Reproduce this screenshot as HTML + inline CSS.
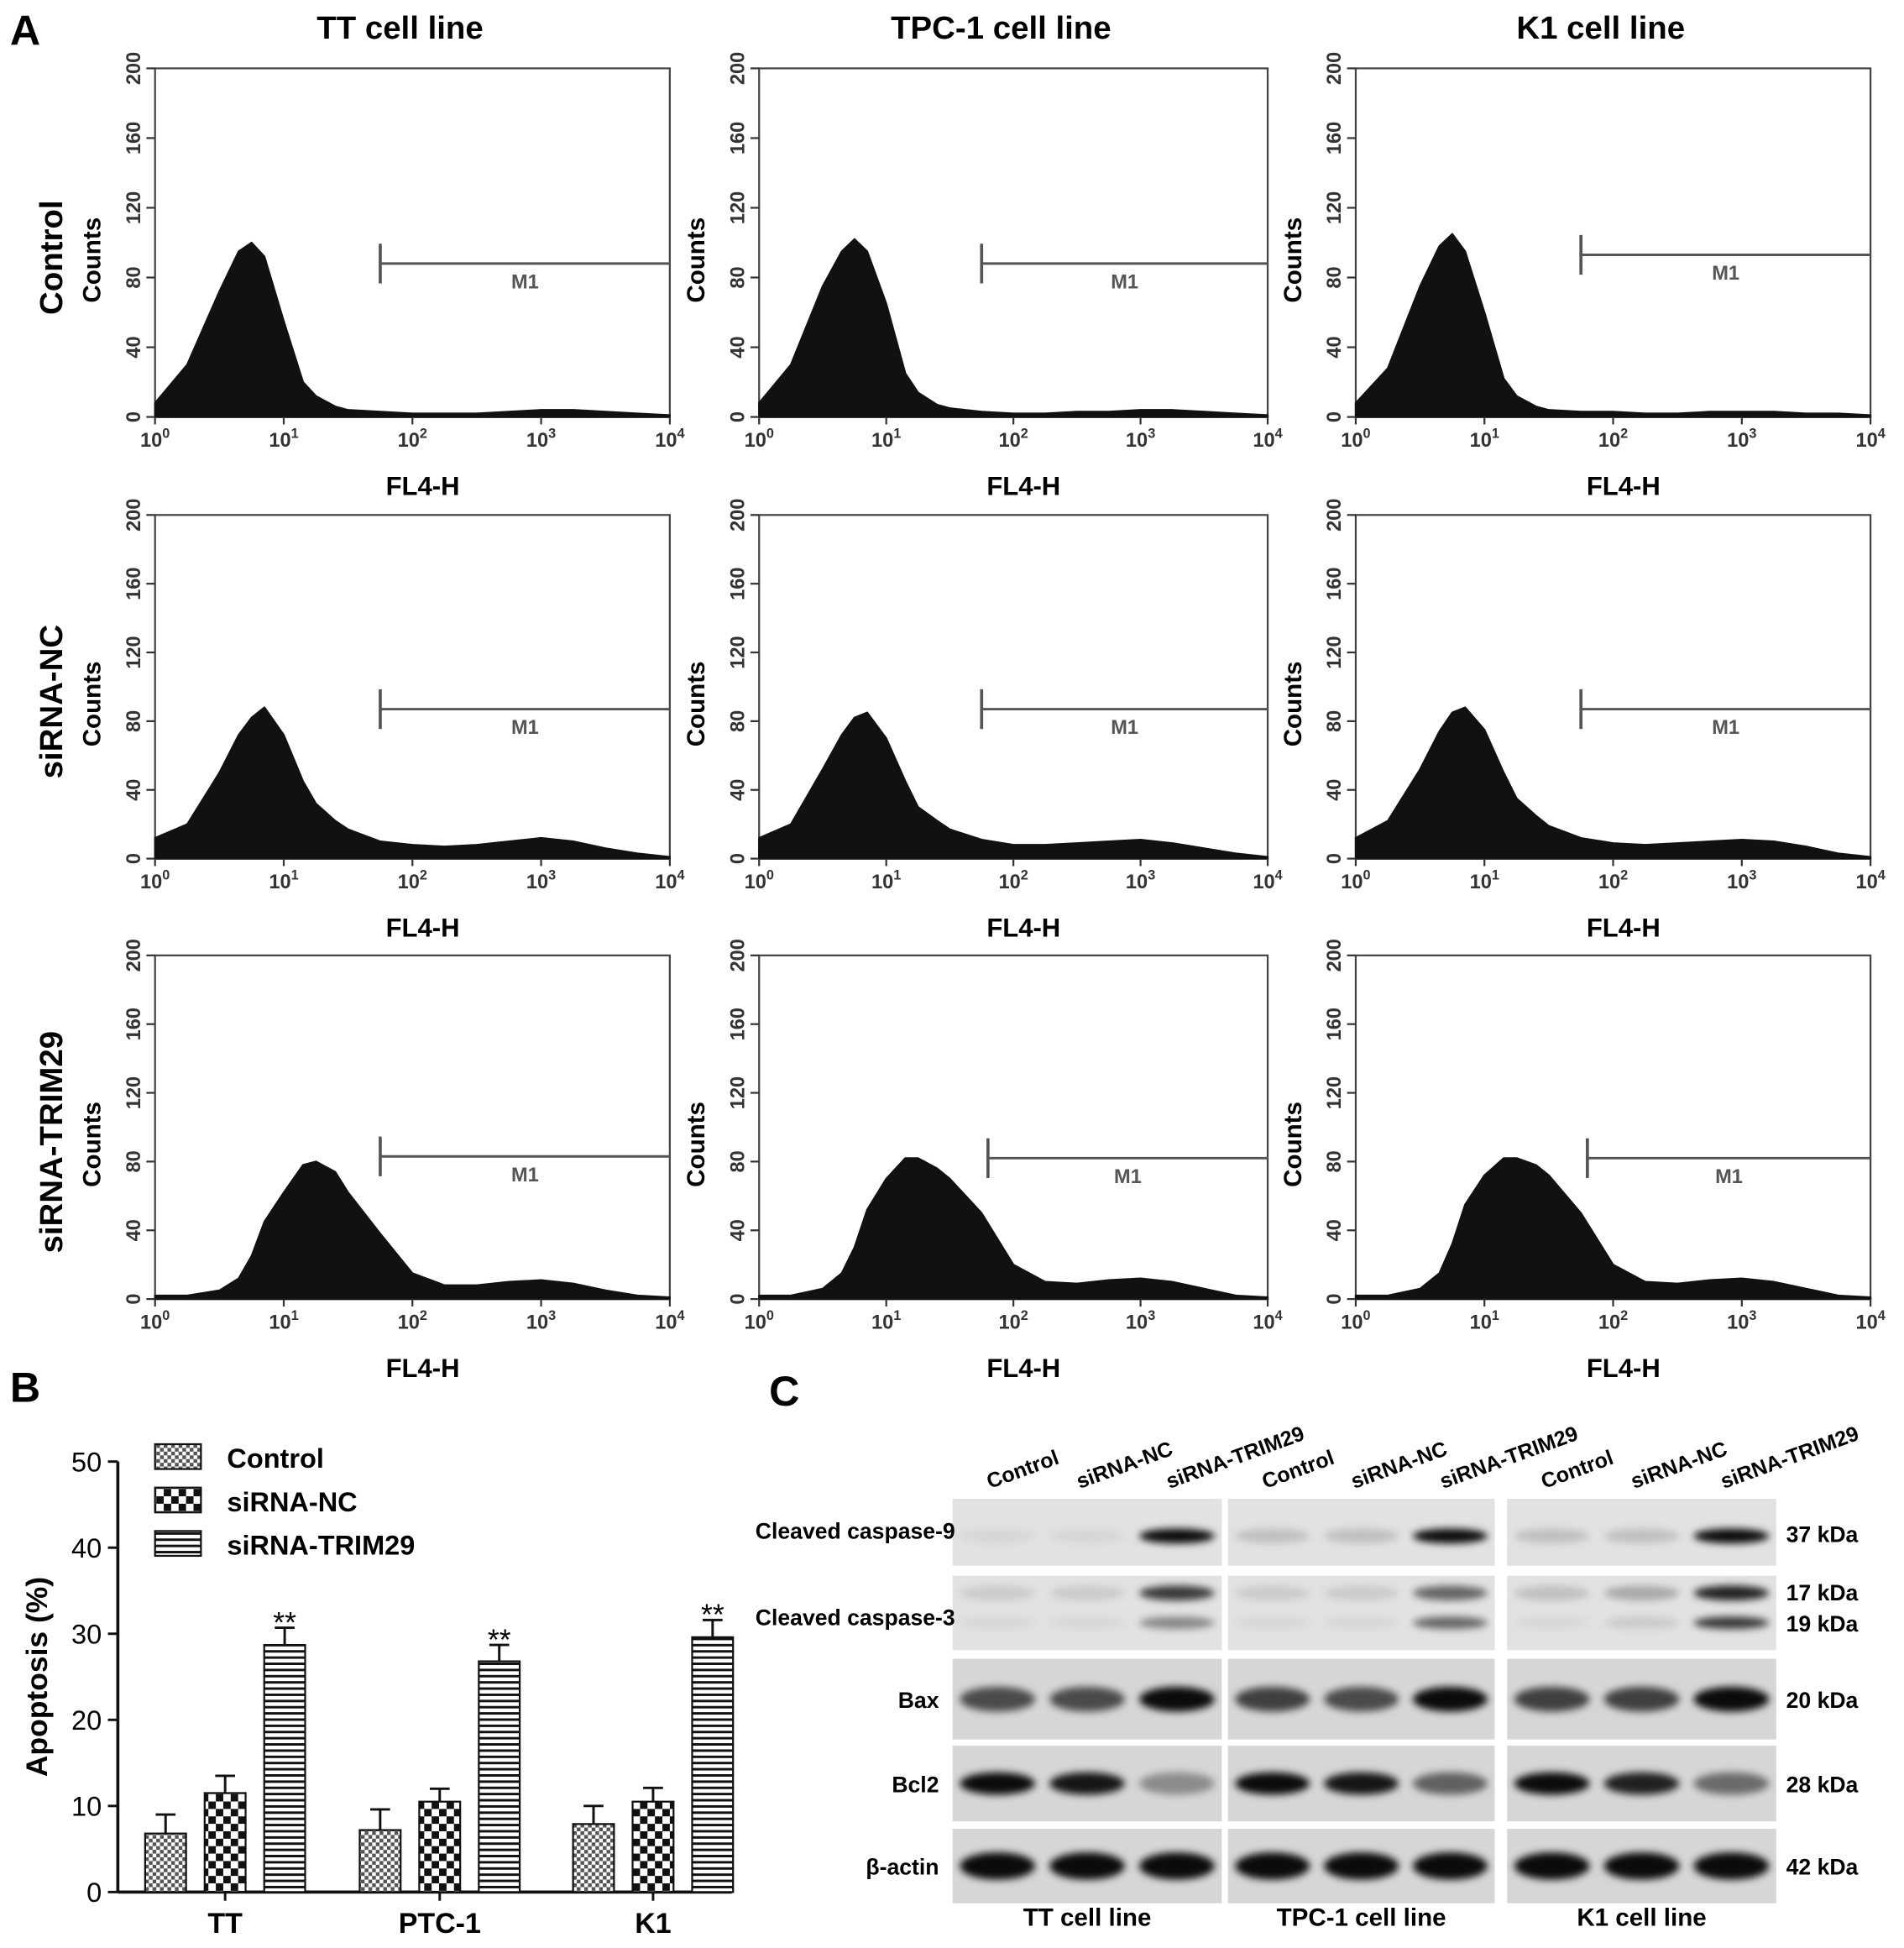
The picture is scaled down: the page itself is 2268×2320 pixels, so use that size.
<!DOCTYPE html>
<html><head><meta charset="utf-8"><style>
html,body{margin:0;padding:0;background:#fff}
svg{display:block;font-family:"Liberation Sans",sans-serif}
</style></head><body>
<svg id="fig" width="2268" height="2320" viewBox="0 0 1535 1570" xmlns="http://www.w3.org/2000/svg">
<defs>
<filter id="blur" x="-20%" y="-100%" width="140%" height="300%"><feGaussianBlur stdDeviation="3"/></filter>
<pattern id="pCtrl" width="6" height="6" patternUnits="userSpaceOnUse"><rect width="6" height="6" fill="#fff"/><rect width="3" height="3" fill="#555"/><rect x="3" y="3" width="3" height="3" fill="#555"/></pattern>
<pattern id="pNC" width="12" height="12" patternUnits="userSpaceOnUse"><rect width="12" height="12" fill="#fff"/><rect width="6" height="6" fill="#111"/><rect x="6" y="6" width="6" height="6" fill="#111"/></pattern>
<pattern id="pTR" width="6" height="5" patternUnits="userSpaceOnUse"><rect width="6" height="5" fill="#fff"/><rect y="0" width="6" height="2" fill="#111"/></pattern>
</defs>
<g id="hists"></g>
<g id="bars"></g>
<g id="blots"></g>
</svg>
<script>
const NS="http://www.w3.org/2000/svg";
function mk(p,tag,at,txt){const e=document.createElementNS(NS,tag);for(const k in at)e.setAttribute(k,at[k]);if(txt!==undefined)e.textContent=txt;p.appendChild(e);return e;}
const fig=document.getElementById('fig');

const colTitles=["TT cell line","TPC-1 cell line","K1 cell line"];
const rowTitles=["Control","siRNA-NC","siRNA-TRIM29"];
const yTicks=[0,40,80,120,160,200];
const xExp=[0,1,2,3,4];
const binLogs=[0,0.25,0.5,0.65,0.75,0.85,1.0,1.15,1.25,1.4,1.5,1.75,2.0,2.25,2.5,2.75,3.0,3.25,3.5,3.75,4.0];
const histTT_C=[8,30,72,95,100,92,55,20,12,6,4,3,2,2,2,3,4,4,3,2,1];
const histTPC_C=[8,30,75,95,102,95,65,25,14,7,5,3,2,2,3,3,4,4,3,2,1];
const histK1_C=[8,28,75,98,105,95,60,22,12,6,4,3,3,2,2,3,3,3,2,2,1];
const histTT_N=[12,20,50,72,82,88,72,45,32,22,17,10,8,7,8,10,12,10,6,3,1];
const histTPC_N=[12,20,52,72,82,85,70,45,30,22,17,11,8,8,9,10,11,9,6,3,1];
const histK1_N=[12,22,52,74,85,88,75,50,35,25,19,12,9,8,9,10,11,10,7,3,1];
const histTT_T=[2,2,5,12,25,45,62,78,80,74,62,38,15,8,8,10,11,9,5,2,1];
const histTPC_T=[2,2,6,15,30,52,70,82,82,76,70,50,20,10,9,11,12,10,6,2,1];
const histK1_T=[2,2,6,15,32,55,72,82,82,78,72,50,20,10,9,11,12,10,6,2,1];
const hists=[[histTT_C,histTPC_C,histK1_C],[histTT_N,histTPC_N,histK1_N],[histTT_T,histTPC_T,histK1_T]];
const m1Log=[[1.75,1.75,1.75],[1.75,1.75,1.75],[1.75,1.8,1.8]];
const m1Count=[[88,88,93],[87,87,87],[83,82,82]];

const cols=[[125,540],[612,1022],[1093,1508]];
const rows=[[55,336],[415,692],[770,1047]];
const hg=document.getElementById('hists');
mk(hg,'text',{x:8,y:36,'font-size':34,'font-weight':'bold',},'A');
colTitles.forEach((t,c)=>{const e=mk(hg,'text',{x:(cols[c][0]+cols[c][1])/2-10,y:31,'font-size':26,'font-weight':'bold','text-anchor':'middle'},t);

});
rowTitles.forEach((t,r)=>{const cy=(rows[r][0]+rows[r][1])/2+12;const e=mk(hg,'text',{x:0,y:0,'font-size':26,'font-weight':'bold','text-anchor':'middle',transform:`translate(50,${cy}) rotate(-90)`},t);

});
for(let r=0;r<3;r++)for(let c=0;c<3;c++){
 const [x0,x1]=cols[c],[y0,y1]=rows[r];
 const g=mk(hg,'g',{});
 
 
 const sx=v=>x0+(x1-x0)*v/4, sy=v=>y1-(y1-y0)*v/200;
 mk(g,'rect',{x:x0,y:y0,width:x1-x0,height:y1-y0,fill:'#fff',stroke:'#444','stroke-width':1.5});
 const h=hists[r][c];let d=`M${sx(binLogs[0])},${y1}`;
 binLogs.forEach((l,i)=>{d+=` L${sx(l)},${sy(h[i])}`;});
 d+=` L${sx(4)},${y1} Z`;
 const p=mk(g,'path',{d,fill:'#111',stroke:'#111','stroke-width':1.5,'stroke-linejoin':'round'});
 
 
 yTicks.forEach(v=>{mk(g,'line',{x1:x0-7,x2:x0,y1:sy(v),y2:sy(v),stroke:'#333','stroke-width':1.5});
  mk(g,'text',{x:0,y:0,'font-size':16,'font-weight':'bold','text-anchor':'middle',transform:`translate(${x0-12},${sy(v)}) rotate(-90)`,fill:'#333'},v);});
 xExp.forEach(v=>{mk(g,'line',{x1:sx(v),x2:sx(v),y1:y1,y2:y1+6,stroke:'#333','stroke-width':1.5});
  const t=mk(g,'text',{x:sx(v),y:y1+24,'font-size':16,'font-weight':'bold','text-anchor':'middle',fill:'#333'},'10');
  mk(t,'tspan',{dy:-7,'font-size':11},v);});
 const cl=mk(g,'text',{x:0,y:0,'font-size':20,'font-weight':'bold','text-anchor':'middle',transform:`translate(${x0-44},${y0+(y1-y0)*0.55}) rotate(-90)`},'Counts');
 
 
 const xl=mk(g,'text',{x:x0+(x1-x0)*0.52,y:y1+63,'font-size':21,'font-weight':'bold','text-anchor':'middle'},'FL4-H');
 
 
 const mx=sx(m1Log[r][c]),my=sy(m1Count[r][c]);
 mk(g,'line',{x1:mx,x2:mx,y1:my-16,y2:my+16,stroke:'#555','stroke-width':2.5});
 mk(g,'line',{x1:mx,x2:x1,y1:my,y2:my,stroke:'#555','stroke-width':2});
 const m=mk(g,'text',{x:(mx+x1)/2,y:my+20,'font-size':16,'font-weight':'bold','text-anchor':'middle',fill:'#555'},'M1');
 
 
}

const groups=["TT","PTC-1","K1"];
const seriesNames=["Control","siRNA-NC","siRNA-TRIM29"];
const ctrlVals=[6.8,7.2,7.9];
const ncVals=[11.5,10.5,10.5];
const trVals=[28.7,26.8,29.6];
const ctrlErr=[2.2,2.4,2.1];
const ncErr=[2.0,1.5,1.6];
const trErr=[2.0,1.9,2.0];
const bTicks=[0,10,20,30,40,50];
const bg=document.getElementById('bars');
const bx0=95,bx1=590,by0=1525,by1=1178;
const byS=v=>by0-(by0-by1)*v/50;
mk(bg,'text',{x:8,y:1130,'font-size':34,'font-weight':'bold'},'B');
mk(bg,'line',{x1:bx0,x2:bx0,y1:by1,y2:by0,stroke:'#111','stroke-width':2.5});
mk(bg,'line',{x1:bx0,x2:bx1,y1:by0,y2:by0,stroke:'#111','stroke-width':2.5});
bTicks.forEach(v=>{mk(bg,'line',{x1:bx0-8,x2:bx0,y1:byS(v),y2:byS(v),stroke:'#111','stroke-width':2});
 mk(bg,'text',{x:bx0-13,y:byS(v)+8,'font-size':22,'text-anchor':'end'},v);});
const yt=mk(bg,'text',{x:0,y:0,'font-size':24,'font-weight':'bold','text-anchor':'middle',transform:`translate(38,${(by0+by1)/2}) rotate(-90)`},'Apoptosis (%)');


const fills=['url(#pCtrl)','url(#pNC)','url(#pTR)'];
const vals=[ctrlVals,ncVals,trVals],errs=[ctrlErr,ncErr,trErr];
const groupStart=[117,290,462],bw=33,gap=15;
groups.forEach((gname,gi)=>{
 for(let s=0;s<3;s++){const x=groupStart[gi]+s*(bw+gap);const v=vals[s][gi],e=errs[s][gi];
  const rc=mk(bg,'rect',{x,y:byS(v),width:bw,height:byS(0)-byS(v),fill:fills[s],stroke:'#111','stroke-width':1.5});
  
  
  const cx=x+bw/2;
  mk(bg,'line',{x1:cx,x2:cx,y1:byS(v),y2:byS(v+e),stroke:'#111','stroke-width':2});
  mk(bg,'line',{x1:cx-8,x2:cx+8,y1:byS(v+e),y2:byS(v+e),stroke:'#111','stroke-width':2});
  if(s===2)mk(bg,'text',{x:cx,y:byS(v+e)+4,'font-size':24,'text-anchor':'middle'},'**');
 }
 mk(bg,'line',{x1:groupStart[gi]+bw*1.5+gap,x2:groupStart[gi]+bw*1.5+gap,y1:by0,y2:by0+7,stroke:'#111','stroke-width':2});
 const gl=mk(bg,'text',{x:groupStart[gi]+bw*1.5+gap,y:1558,'font-size':23,'font-weight':'bold','text-anchor':'middle'},gname);
 
 
});
seriesNames.forEach((n,s)=>{const y=1164+s*35;
 const r=mk(bg,'rect',{x:125,y:y,width:37,height:20,fill:fills[s],stroke:'#111','stroke-width':1.5});
 
 
 const t=mk(bg,'text',{x:183,y:y+19,'font-size':22,'font-weight':'bold'},n);
 
 });

const lanes=["Control","siRNA-NC","siRNA-TRIM29"];
const proteins=["Cleaved caspase-9","Cleaved caspase-3","Bax","Bcl2","β-actin"];
const kda=[["37 kDa"],["17 kDa","19 kDa"],["20 kDa"],["28 kDa"],["42 kDa"]];
const casp9=[[0.05,0.05,0.95],[0.15,0.15,0.95],[0.15,0.15,0.95]];
const casp3a=[[0.1,0.1,0.75],[0.1,0.1,0.55],[0.15,0.25,0.85]];
const casp3b=[[0.05,0.05,0.4],[0.05,0.05,0.55],[0.05,0.1,0.75]];
const bax=[[0.65,0.65,0.95],[0.7,0.65,0.95],[0.7,0.7,0.95]];
const bcl2=[[0.95,0.9,0.35],[0.95,0.9,0.55],[0.95,0.85,0.5]];
const actin=[[0.95,0.95,0.95],[0.95,0.95,0.95],[0.95,0.95,0.95]];
const cg=document.getElementById('blots');
mk(cg,'text',{x:620,y:1133,'font-size':34,'font-weight':'bold'},'C');
const blotCols=[[768,985],[990,1205],[1215,1432]];
const blotRows=[[1208,1262],[1270,1330],[1337,1402],[1407,1468],[1474,1534]];
const cellNames=["TT cell line","TPC-1 cell line","K1 cell line"];
blotCols.forEach(([a,b],ci)=>{
 const lw=(b-a)/3;
 lanes.forEach((l,li)=>{const t=mk(cg,'text',{x:0,y:0,'font-size':17,'font-weight':'bold',transform:`translate(${a+lw*li+30},${1200}) rotate(-20)`},l);
  
  });
 const cn=mk(cg,'text',{x:(a+b)/2,y:1552,'font-size':20,'font-weight':'bold','text-anchor':'middle'},cellNames[ci]);
 
 
 blotRows.forEach(([t,bt],ri)=>{
  const r=mk(cg,'rect',{x:a,y:t,width:b-a,height:bt-t,fill:ri<2?'#e2e2e2':'#d6d6d6'});
  
  
  const mid=(t+bt)/2;
  const drawBand=(arr,yy,hh)=>{arr[ci].forEach((v,li)=>{const cx=a+lw*li+lw/2;
   const e=mk(cg,'ellipse',{cx,cy:yy,rx:lw*0.42,ry:hh,fill:'#000','fill-opacity':v,filter:'url(#blur)'});
   
   });};
  if(ri===0)drawBand(casp9,t+30,6);
  if(ri===1){drawBand(casp3a,t+14,6);drawBand(casp3b,t+38,5);}
  if(ri===2)drawBand(bax,mid,10);
  if(ri===3)drawBand(bcl2,mid,9);
  if(ri===4)drawBand(actin,mid,11);
 });
});
proteins.forEach((p,ri)=>{const [t,b]=blotRows[ri];
 const x=ri<2?770:757;const y=ri===0?t+32:ri===1?t+40:(t+b)/2+7;
 const e=mk(cg,'text',{x,y,'font-size':18,'font-weight':'bold','text-anchor':'end'},p);
 
 
 kda[ri].forEach((k,ki)=>{const yy=ri===1?t+20+ki*25:ri===0?t+35:(t+b)/2+7;
  const kt=mk(cg,'text',{x:1440,y:yy,'font-size':18,'font-weight':'bold'},k);
  
  });
});
</script>
</body></html>
